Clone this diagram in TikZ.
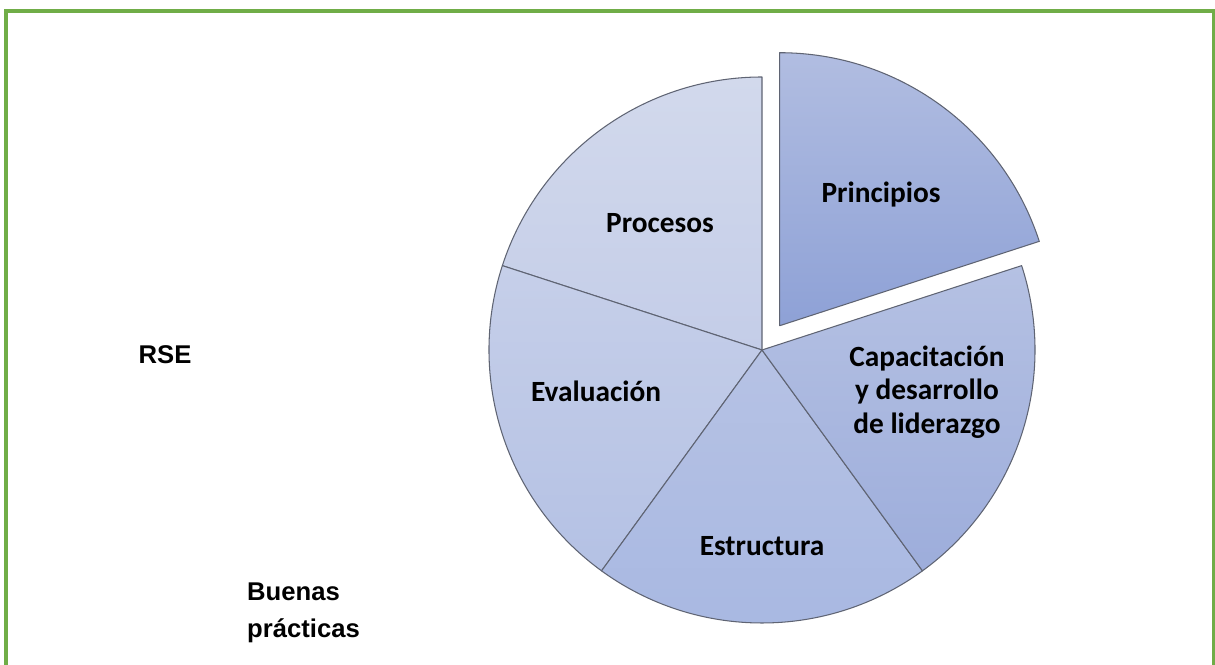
\documentclass[tikz,border=0pt]{standalone}
\usepackage{fontspec}
\setmainfont{Carlito}
\newfontfamily\arialfont{Liberation Sans}
\usetikzlibrary{calc}

\definecolor{framegreen}{RGB}{112,173,71}
\definecolor{edgegray}{RGB}{95,100,115}
\definecolor{procA}{RGB}{210,217,236}
\definecolor{procB}{RGB}{196,205,232}
\definecolor{evalA}{RGB}{198,207,233}
\definecolor{evalB}{RGB}{180,193,228}
\definecolor{estA}{RGB}{182,194,228}
\definecolor{estB}{RGB}{168,184,226}
\definecolor{capA}{RGB}{181,193,227}
\definecolor{capB}{RGB}{157,173,219}
\definecolor{prinA}{RGB}{177,189,225}
\definecolor{prinB}{RGB}{142,161,214}

\tikzset{
	frame/.style={draw=framegreen, line width=1.8pt},
	slice/.style={draw=edgegray, line width=0.6pt, line join=round},
	sliceText/.style={font=\fontsize{16.7}{19}\selectfont\bfseries, align=center},
	sideText/.style={font=\arialfont\fontsize{14.6}{21}\selectfont\bfseries, align=left}
}

\begin{document}
\begin{tikzpicture}[x=0.02cm,y=0.02cm]
	\useasboundingbox (0,0) rectangle (1215,665);
	\draw[frame] (6,0) |- (1214,654) -- (1214,0);

	\coordinate (c) at (762,315);
	\coordinate (p) at ($(c)+(54:30)$);

	% four slices around the centre
	\foreach \a/\ca/\cb in {90/procA/procB, 162/evalA/evalB, 234/estA/estB, 306/capA/capB}{
		\shadedraw[slice, top color=\ca, bottom color=\cb] (c) -- ++(\a:273) arc[start angle=\a, end angle=\a+72, radius=273] -- cycle;
	}
	% pulled-out slice
	\shadedraw[slice, top color=prinA, bottom color=prinB] (p) -- ++(18:273) arc[start angle=18, end angle=90, radius=273] -- cycle;

	\node[sliceText] (procesos) at (660,442) {Procesos};
	\node[sliceText] (principios) at (881,470) {Principios};
	\node[sliceText] (evaluacion) at (596,274) {Evaluación};
	\node[sliceText] (estructura) at (762,119) {Estructura};
	\node[sliceText] (capacitacion) at (927,273) {Capacitación\\y desarrollo\\de liderazgo};

	\node[sideText] (rse) at (165,310) {RSE};
	\node[sideText, anchor=west] (buenas) at (241,52) {Buenas\\prácticas};
\end{tikzpicture}
\end{document}
